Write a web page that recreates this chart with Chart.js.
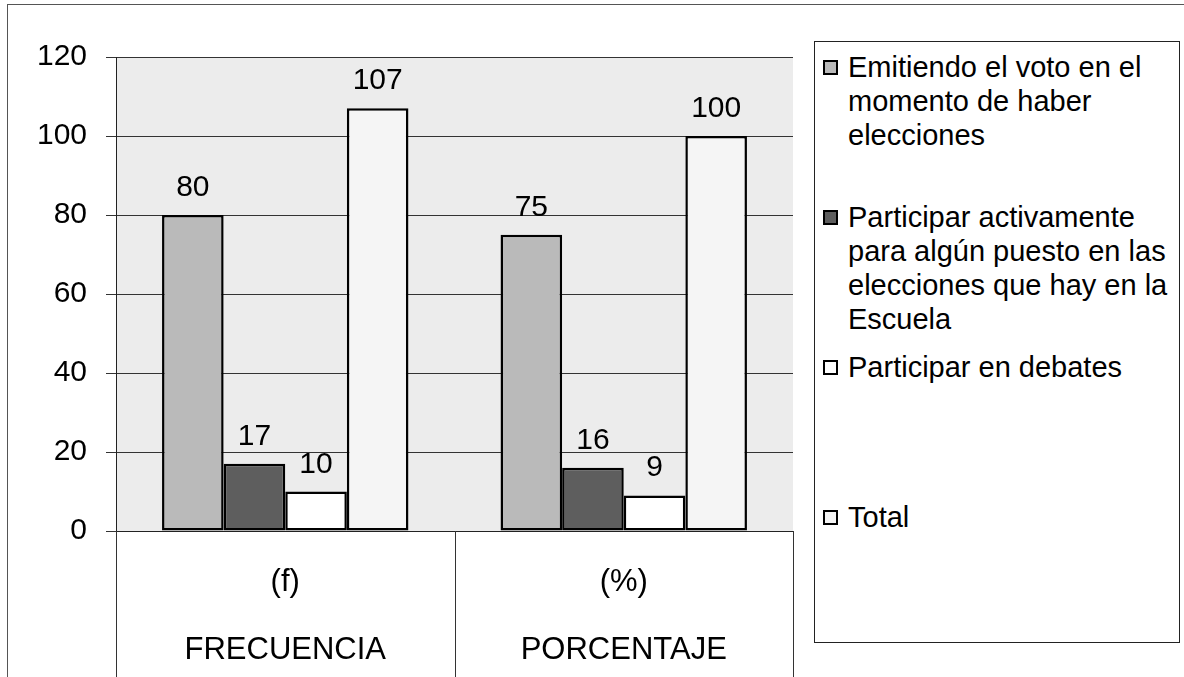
<!DOCTYPE html>
<html>
<head>
<meta charset="utf-8">
<title>Participación en elecciones</title>
<script src="https://cdn.jsdelivr.net/npm/chart.js@4.4.0/dist/chart.umd.min.js"></script>
<style>
  html, body { margin: 0; padding: 0; background: #fff; }
  body { width: 1184px; height: 677px; position: relative; overflow: hidden; font-family: "Liberation Sans", Arial, sans-serif; }
  #frame { position: absolute; left: 7px; top: 4px; width: 1190px; height: 700px; border: 1px solid #555; box-sizing: border-box; }
  #wrap { position: absolute; left: 0; top: 0; width: 1184px; height: 677px; }
  #legend { position: absolute; left: 814px; top: 41px; width: 366px; height: 602px; border: 1px solid #222; box-sizing: border-box; background: #fff; }
  .item { position: absolute; left: 8px; width: 350px; }
  .box { position: absolute; left: 0; top: 10px; width: 15px; height: 15px; border: 2px solid #000; box-sizing: border-box; }
  .txt { position: absolute; left: 25px; top: 0; width: 328px; font-size: 29px; line-height: 34px; color: #000; }
</style>
</head>
<body>
<div id="frame"></div>
<div id="wrap"><canvas id="myChart"></canvas></div>
<div id="legend"></div>
<script>
const categories = [['(f)', 'FRECUENCIA'], ['(%)', 'PORCENTAJE']];
const seriesNames = [
    'Emitiendo el voto en el momento de haber elecciones',
    'Participar activamente para algún puesto en las elecciones que hay en la Escuela',
    'Participar en debates',
    'Total'
];
const emitiendoVoto = [80, 75];
const participarPuesto = [17, 16];
const participarDebates = [10, 9];
const total = [107, 100];
const yMax = 120;
const yStep = 20;

const fontFamily = '"Liberation Sans", Arial, sans-serif';
const fills = ['#bababa', '#5e5e5e', '#ffffff', '#f5f5f5'];

// fondo gris del área de trazado
const plotBackground = {
    id: 'plotBackground',
    beforeDraw(chart) {
        const { ctx, chartArea } = chart;
        ctx.save();
        ctx.fillStyle = '#ececec';
        ctx.fillRect(chartArea.left, chartArea.top, chartArea.right - chartArea.left, chartArea.bottom - chartArea.top);
        ctx.restore();
    }
};

// valores encima de cada barra
const valueLabels = {
    id: 'valueLabels',
    afterDatasetsDraw(chart) {
        const ctx = chart.ctx;
        ctx.save();
        ctx.font = '30px ' + fontFamily;
        ctx.fillStyle = '#000';
        ctx.textAlign = 'center';
        ctx.textBaseline = 'alphabetic';
        chart.data.datasets.forEach((ds, i) => {
            chart.getDatasetMeta(i).data.forEach((bar, j) => {
                ctx.fillText(String(ds.data[j]), bar.x, bar.y - 19);
            });
        });
        ctx.restore();
    }
};

// líneas que separan las categorías bajo el eje
const categoryLines = {
    id: 'categoryLines',
    afterDraw(chart) {
        const ctx = chart.ctx;
        const x = chart.scales.x;
        const n = chart.data.labels.length;
        const w = (x.right - x.left) / n;
        ctx.save();
        ctx.strokeStyle = '#333';
        ctx.lineWidth = 1;
        ctx.beginPath();
        for (let i = 0; i <= n; i++) {
            const px = Math.round(x.left + i * w) + 0.5;
            ctx.moveTo(px, chart.chartArea.bottom);
            ctx.lineTo(px, chart.height);
        }
        ctx.stroke();
        ctx.restore();
    }
};

const seriesData = [emitiendoVoto, participarPuesto, participarDebates, total];

const ctx = document.getElementById('myChart').getContext('2d');
const myChart = new Chart(ctx, {
    type: 'bar',
    data: {
        labels: categories,
        datasets: seriesData.map((values, i) => ({
            label: seriesNames[i],
            data: values,
            backgroundColor: fills[i],
            borderColor: '#000',
            borderWidth: 2.5,
            borderSkipped: false,
            barPercentage: 1,
            categoryPercentage: 0.728
        }))
    },
    options: {
        responsive: true,
        maintainAspectRatio: false,
        animation: false,
        layout: { padding: { left: 0, right: 391, top: 57, bottom: 0 } },
        plugins: {
            legend: { display: false },
            tooltip: { enabled: false }
        },
        scales: {
            x: {
                grid: { display: false, drawTicks: false },
                border: { display: true, color: '#222', width: 1 },
                ticks: {
                    color: '#000',
                    font: { family: fontFamily, size: 31, lineHeight: '68px' },
                    padding: 17,
                    maxRotation: 0,
                    autoSkip: false
                },
                afterFit: s => { s.height = 146; }
            },
            y: {
                min: 0,
                max: yMax,
                ticks: {
                    stepSize: yStep,
                    color: '#000',
                    font: { family: fontFamily, size: 30 },
                    padding: 19
                },
                grid: { color: '#333', lineWidth: 1, tickLength: 10 },
                border: { color: '#222', width: 1 },
                afterFit: s => { s.width = 116; }
            }
        }
    },
    plugins: [plotBackground, valueLabels, categoryLines]
});

// leyenda en HTML a partir de los datasets
const legendEl = document.getElementById('legend');
myChart.data.datasets.forEach((ds, i) => {
    const item = document.createElement('div');
    item.className = 'item';
    item.style.top = (8 + i * 150) + 'px';
    const box = document.createElement('div');
    box.className = 'box';
    box.style.background = ds.backgroundColor;
    const txt = document.createElement('div');
    txt.className = 'txt';
    txt.textContent = ds.label;
    item.appendChild(box);
    item.appendChild(txt);
    legendEl.appendChild(item);
});
</script>
</body>
</html>
